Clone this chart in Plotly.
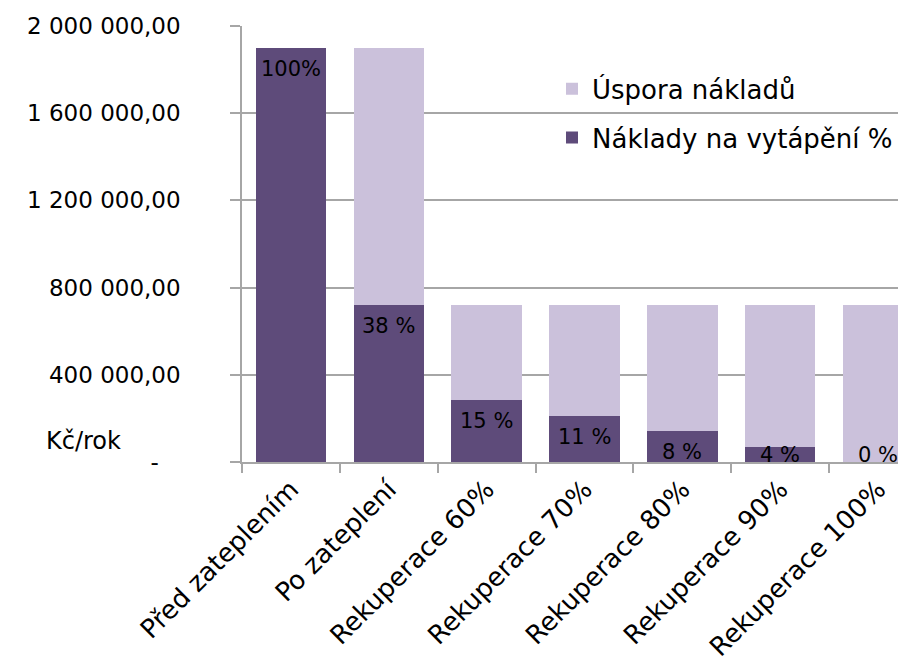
import plotly.graph_objects as go

# ---- data ----
categories = ["Před zateplením", "Po zateplení", "Rekuperace 60%", "Rekuperace 70%",
              "Rekuperace 80%", "Rekuperace 90%", "Rekuperace 100%"]
naklady = [1900000, 720000, 284000, 211000, 142000, 69000, 0]        # Náklady na vytápění
uspora = [0, 1180000, 436000, 509000, 578000, 651000, 720000]         # Úspora nákladů
pct_labels = ["100%", "38 %", "15 %", "11 %", "8 %", "4 %", "0 %"]
y_tickvals = [0, 400000, 800000, 1200000, 1600000, 2000000]
y_ticktext = ["-\u00a0\u00a0\u00a0", "400 000,00", "800 000,00", "1 200 000,00",
              "1 600 000,00", "2 000 000,00"]

DARK = "#5E4B7A"
LIGHT = "#CBC1DB"
GRID = "#A6A6A6"
FONT = "DejaVu Sans"

fig = go.Figure()
fig.add_trace(go.Bar(x=categories, y=naklady, name="Náklady na vytápění %",
                     marker=dict(color=DARK, line=dict(width=0)),
                     legendgroup="a", legendrank=2))
fig.add_trace(go.Bar(x=categories, y=uspora, name="Úspora nákladů",
                     marker=dict(color=LIGHT, line=dict(width=0)),
                     legendgroup="b", legendrank=1))

label_floor = 128000
for cat, v, lab in zip(categories, naklady, pct_labels):
    fig.add_annotation(x=cat, y=max(v, label_floor), text=lab, showarrow=False,
                       xref="x", yref="y", yanchor="middle", yshift=-21,
                       font=dict(family=FONT, size=21, color="black"))

fig.add_annotation(text="Kč/rok", xref="paper", yref="paper", x=-0.242, y=0.048,
                   xanchor="center", yanchor="middle", showarrow=False,
                   font=dict(family=FONT, size=24, color="black"))

fig.update_layout(
    width=898, height=661, autosize=False,
    margin=dict(l=242, r=0, t=26, b=199, pad=0),
    barmode="stack", bargap=0.28,
    paper_bgcolor="white", plot_bgcolor="white",
    font=dict(family=FONT, color="black"),
    showlegend=True,
    legend=dict(x=0.4726, y=0.91, xanchor="left", yanchor="top",
                bgcolor="rgba(0,0,0,0)", font=dict(family=FONT, size=26, color="black"),
                traceorder="grouped", tracegroupgap=12, itemwidth=30),
)
fig.update_xaxes(
    range=[-0.5, 6.204], showline=True, linecolor=GRID, linewidth=1.5,
    ticks="outside", tickson="boundaries", ticklen=9, tickcolor=GRID, tickwidth=1.5,
    tickangle=-45, tickfont=dict(family=FONT, size=26, color="black"),
    showgrid=False, fixedrange=True, automargin=False,
)
fig.update_yaxes(
    range=[0, 2000000], tickvals=y_tickvals, ticktext=y_ticktext,
    showline=True, linecolor=GRID, linewidth=1.5,
    ticks="outside", ticklen=10, tickcolor=GRID, tickwidth=1.5,
    ticklabelstandoff=45,
    showgrid=True, gridcolor=GRID, gridwidth=1.5, zeroline=False,
    tickfont=dict(family=FONT, size=23, color="black"), fixedrange=True, automargin=False,
)

fig.write_html("out.html", config={"displayModeBar": False},
               post_script="document.body.style.margin='0';")
